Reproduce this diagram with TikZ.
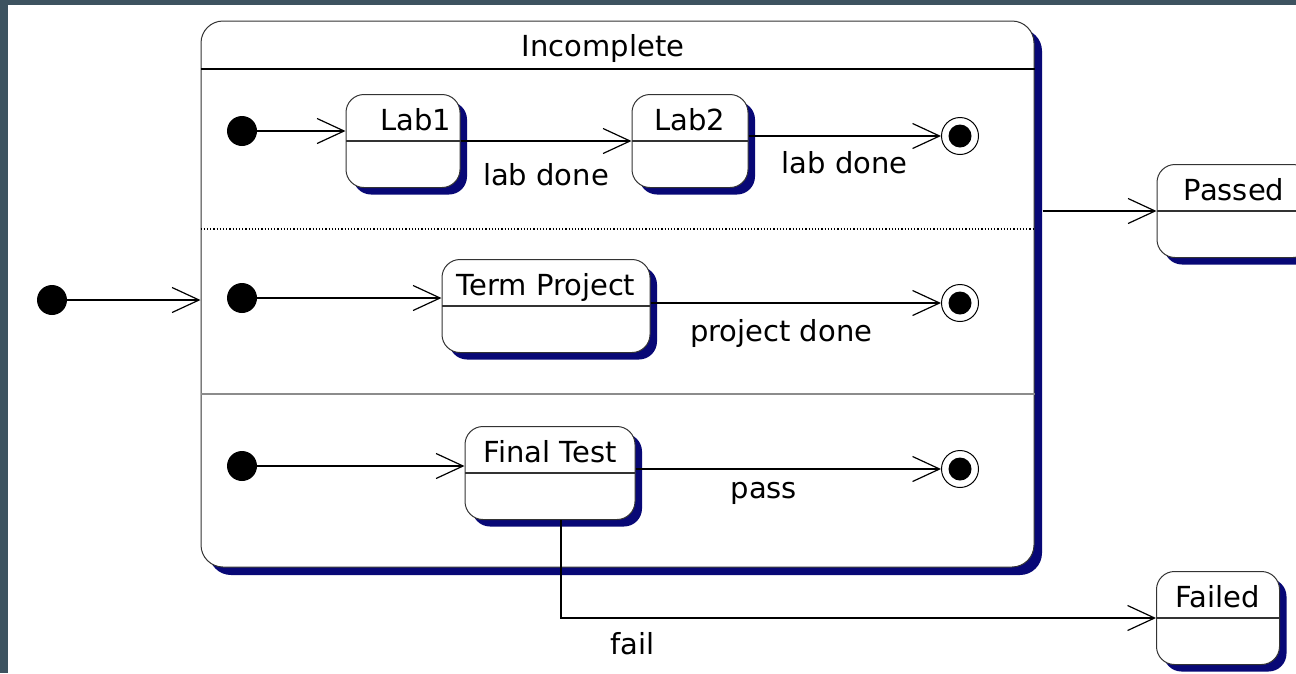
\documentclass[tikz,border=0pt]{standalone}
\usepackage{fontspec}
\setmainfont{DejaVu Sans}
\usetikzlibrary{positioning,shadows,arrows.meta}
\definecolor{slate}{HTML}{3D5360}
\definecolor{shadowblue}{RGB}{8,8,118}

\begin{document}
\begin{tikzpicture}[x=1pt, y=-1pt,
  every node/.style = {font=\fontsize{29}{34}\selectfont},
  state/.style = { shape=rectangle, rounded corners=18pt, draw=black!80,
	line width=1pt, fill=white, inner sep=0pt, text height=36pt, text depth=57pt,
	drop shadow={shadow xshift=7pt, shadow yshift=-7pt, fill=shadowblue, opacity=1},
	path picture={\draw[line width=1.2pt] (path picture bounding box.west)
	  -- (path picture bounding box.east);}},
  initial/.style = { circle, fill=black, minimum size=30pt, inner sep=0pt},
  final/.style = { circle, draw, line width=1pt, minimum size=37pt, inner sep=0pt,
	path picture={\fill (path picture bounding box.center) circle (11.5pt);}},
  trans/.style = { draw, line width=1.2pt, -{Straight Barb[length=27pt, width=25pt]}},
  lbl/.style = { inner sep=2pt}]

\useasboundingbox (0,0) rectangle (1296,673);
\fill[slate] (0,0) rectangle (1296,673);
\fill[white] (8,5) rectangle (1296,673);
\clip (0,0) rectangle (1296,673);

% composite state
\node[draw=black!80, line width=1pt, rounded corners=22pt, fill=white,
	minimum width=833pt, minimum height=546pt,
	drop shadow={shadow xshift=8pt, shadow yshift=-8pt, fill=shadowblue, opacity=1}]
	(incomplete) at (617.5,294) {};
\node (title) at (603,48) {Incomplete};
\draw[line width=1.2pt] (incomplete.west |- 0,69) -- (incomplete.east |- 0,69);
\draw[dotted, line width=1.2pt] (incomplete.west |- 0,229) -- (incomplete.east |- 0,229);
\draw[black!45, line width=1.2pt] (incomplete.west |- 0,394) -- (incomplete.east |- 0,394);

\node[initial] (start) at (52,300) {};

% labs
\node[initial] (init1) at (242,131) {};
\node[state, minimum width=114pt] (lab1) at (403,141) {\hspace*{26pt}Lab1};
\node[state, minimum width=116pt] (lab2) at (690,141) {Lab2};
\node[final] (end1) at (960,136) {};

% project
\node[initial] (init2) at (242,298) {};
\node[state, minimum width=208pt] (term) at (546,306) {Term Project};
\node[final] (end2) at (960,303) {};

% test
\node[initial] (init3) at (242,466) {};
\node[state, minimum width=170pt] (test) at (550,473) {Final Test};
\node[final] (end3) at (960,469) {};

\node[state, minimum width=154pt] (passed) at (1234,211) {Passed};
\node[state, minimum width=123pt] (failed) at (1218,618) {Failed};

\draw[trans] (start) -- (start -| incomplete.west);
\draw[trans] (init1) -- (init1 -| lab1.west);
\draw[trans] (lab1) -- node[lbl, below=20pt] {lab done} (lab2);
\draw[trans] (end1 -| lab2.east) -- node[lbl, below=13pt] {lab done} (end1);
\draw[trans] (init2) -- (init2 -| term.west);
\draw[trans] (end2 -| term.east) -- node[lbl, below=14pt, pos=0.45] {project done} (end2);
\draw[trans] (init3) -- (init3 -| test.west);
\draw[trans] (end3 -| test.east) -- node[lbl, below=11pt, pos=0.42] {pass} (end3);
\draw[trans] ([xshift=11pt]test.south) |- node[lbl, below=12pt, pos=0.56] {fail} (failed.west);
\path (incomplete.east |- passed) ++(8,0) coordinate (exit);
\draw[trans] (exit) -- (passed);
\end{tikzpicture}
\end{document}
